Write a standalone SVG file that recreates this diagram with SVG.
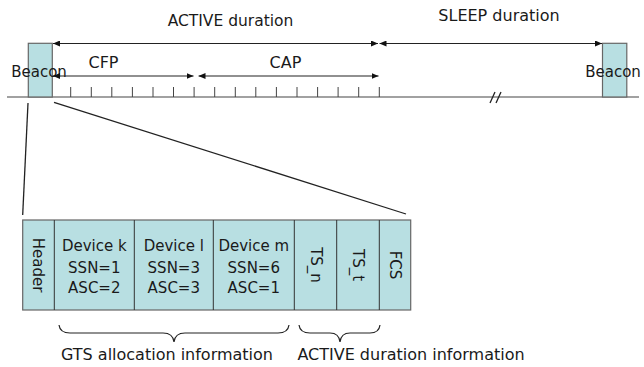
<svg xmlns="http://www.w3.org/2000/svg" width="644" height="367" viewBox="0 0 644 367">
<style>
text{font-family:"DejaVu Sans","Liberation Sans",Arial,sans-serif;font-size:15px;fill:#1a1a1a}
.big{font-size:16px}
.box{fill:#b8dfe2;stroke:#666;stroke-width:1.2}
.div{stroke:#333;stroke-width:1}
.arr{stroke:#222;stroke-width:1.2;fill:none;marker-start:url(#ah);marker-end:url(#ah)}
.ln{stroke:#222;stroke-width:1.3;fill:none}
.tick{stroke:#444;stroke-width:1}
.brace{stroke:#222;stroke-width:1.2;fill:none}
.mid{text-anchor:middle}
</style>
<defs>
<marker id="ah" viewBox="0 0 7 6" refX="7" refY="3" markerWidth="7" markerHeight="6" markerUnits="userSpaceOnUse" orient="auto-start-reverse">
<path d="M0,0 L7,3 L0,6 z" fill="#111"/>
</marker>
</defs>
<rect width="644" height="367" fill="#fff"/>

<g id="labels-top">
<text class="mid" x="230.5" y="26" style="font-size:15.5px">ACTIVE duration</text>
<text class="mid big" x="499" y="21">SLEEP duration</text>
<text class="mid big" x="103.5" y="68">CFP</text>
<text class="mid big" x="285.5" y="68">CAP</text>
</g>

<g id="timeline">
<line x1="7" y1="97" x2="639" y2="97" stroke="#444" stroke-width="1.2"/>
<g class="tick">
<line x1="70.7" y1="87" x2="70.7" y2="97"/>
<line x1="91.3" y1="87" x2="91.3" y2="97"/>
<line x1="111.8" y1="87" x2="111.8" y2="97"/>
<line x1="132.4" y1="87" x2="132.4" y2="97"/>
<line x1="153" y1="87" x2="153" y2="97"/>
<line x1="173.5" y1="87" x2="173.5" y2="97"/>
<line x1="194.1" y1="87" x2="194.1" y2="97"/>
<line x1="214.7" y1="87" x2="214.7" y2="97"/>
<line x1="235.3" y1="87" x2="235.3" y2="97"/>
<line x1="255.8" y1="87" x2="255.8" y2="97"/>
<line x1="276.4" y1="87" x2="276.4" y2="97"/>
<line x1="297" y1="87" x2="297" y2="97"/>
<line x1="317.6" y1="87" x2="317.6" y2="97"/>
<line x1="338.1" y1="87" x2="338.1" y2="97"/>
<line x1="358.7" y1="87" x2="358.7" y2="97"/>
<line x1="379.3" y1="87" x2="379.3" y2="97"/>
</g>
<line class="ln" x1="490" y1="103" x2="495" y2="92"/>
<line class="ln" x1="496" y1="103" x2="501" y2="92"/>
</g>

<g id="beacon-left">
<rect class="box" x="28.3" y="43.3" width="24" height="53.7" stroke="#777"/>
<text class="mid" x="39" y="77">Beacon</text>
</g>
<g id="beacon-right">
<rect class="box" x="602.5" y="43.3" width="24.3" height="53.7" stroke="#777"/>
<text class="mid" x="613" y="77">Beacon</text>
</g>

<g id="connectors">
<line class="arr" x1="53" y1="43.5" x2="378" y2="43.5"/>
<line class="arr" x1="379.5" y1="43.5" x2="602" y2="43.5"/>
<line class="arr" x1="53" y1="76" x2="193.5" y2="76"/>
<line class="arr" x1="198.5" y1="76" x2="378.5" y2="76"/>
<line class="ln" x1="28" y1="103" x2="22.7" y2="215"/>
<line class="ln" x1="54" y1="102.3" x2="406" y2="214"/>
</g>

<g id="frame">
<rect class="box" x="22.7" y="220" width="388" height="90"/>
<line class="div" x1="54.3" y1="220" x2="54.3" y2="310"/>
<line class="div" x1="134.3" y1="220" x2="134.3" y2="310"/>
<line class="div" x1="213.3" y1="220" x2="213.3" y2="310"/>
<line class="div" x1="294.3" y1="220" x2="294.3" y2="310"/>
<line class="div" x1="336.7" y1="220" x2="336.7" y2="310"/>
<line class="div" x1="379.3" y1="220" x2="379.3" y2="310"/>
</g>

<g id="field-header"><text class="mid" transform="translate(33,265) rotate(90)">Header</text></g>
<g id="field-device-k">
<text class="mid" x="94.3" y="251">Device k</text>
<text class="mid" x="94.3" y="272.5">SSN=1</text>
<text class="mid" x="94.3" y="293">ASC=2</text>
</g>
<g id="field-device-l">
<text class="mid" x="173.8" y="251">Device l</text>
<text class="mid" x="173.8" y="272.5">SSN=3</text>
<text class="mid" x="173.8" y="293">ASC=3</text>
</g>
<g id="field-device-m">
<text class="mid" x="253.8" y="251">Device m</text>
<text class="mid" x="253.8" y="272.5">SSN=6</text>
<text class="mid" x="253.8" y="293">ASC=1</text>
</g>
<g id="field-tsn"><text class="mid" transform="translate(310.5,265) rotate(90)">TS_n</text></g>
<g id="field-tst"><text class="mid" transform="translate(353,265) rotate(90)">TS_t</text></g>
<g id="field-fcs"><text class="mid" transform="translate(390,265) rotate(90)">FCS</text></g>

<g id="brace-gts">
<path class="brace" d="M59,325 Q60,333 70,333 L163,333 Q173,333 174,342 Q175,333 185,333 L278,333 Q288,333 289,325"/>
<text class="mid big" x="167" y="360">GTS allocation information</text>
</g>
<g id="brace-active">
<path class="brace" d="M299,325 Q300,333 310,333 L330,333 Q339,333 340,342 Q341,333 350,333 L370,333 Q379,333 380,325"/>
<text class="mid big" x="411" y="360">ACTIVE duration information</text>
</g>
</svg>
